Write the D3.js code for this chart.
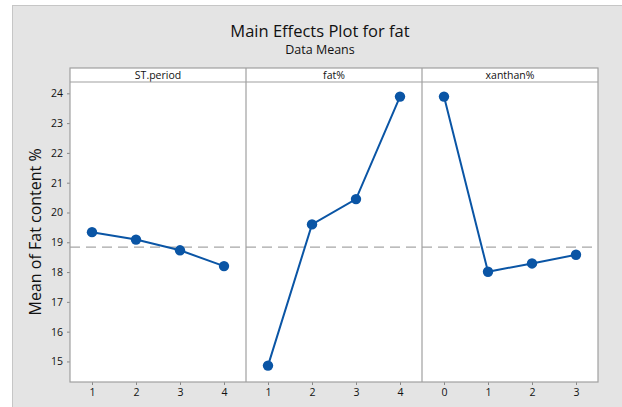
<!DOCTYPE html>
<html>
<head>
<meta charset="utf-8">
<script src="https://cdn.jsdelivr.net/npm/d3@7"></script>
<style>
  body { margin: 0; background: #fff; }
  svg { display: block; font-family: "Open Sans", "Noto Sans", sans-serif; }
</style>
</head>
<body>
<svg id="chart" width="622" height="407"></svg>
<script>
// factor panels
var factors = ["ST.period", "fat%", "xanthan%"];
var levels = [[1, 2, 3, 4], [1, 2, 3, 4], [0, 1, 2, 3]];
var means = [
  [19.34, 19.09, 18.73, 18.20],
  [14.86, 19.60, 20.45, 23.89],
  [23.89, 18.01, 18.29, 18.58]
];
var grandMean = 18.84;
var yTicks = [15, 16, 17, 18, 19, 20, 21, 22, 23, 24];

var svg = d3.select("#chart");

// grey backdrop
svg.append("rect")
  .attr("x", 12.5).attr("y", 5.5)
  .attr("width", 620).attr("height", 410)
  .attr("fill", "#e4e4e4").attr("stroke", "#c6c6c6");

svg.append("text")
  .attr("x", 320).attr("y", 37)
  .attr("text-anchor", "middle")
  .attr("font-size", 16.5).attr("fill", "#111")
  .text("Main Effects Plot for fat");
svg.append("text")
  .attr("x", 320).attr("y", 54)
  .attr("text-anchor", "middle")
  .attr("font-size", 12.5).attr("fill", "#111")
  .text("Data Means");

var plotLeft = 70, plotRight = 598, headTop = 68, plotTop = 82, plotBottom = 382;
var panelW = (plotRight - plotLeft) / factors.length;

var y = d3.scaleLinear().domain([14.31, 24.38]).range([plotBottom, plotTop]);

// white plot area
svg.append("rect")
  .attr("x", plotLeft).attr("y", headTop)
  .attr("width", plotRight - plotLeft).attr("height", plotBottom - headTop)
  .attr("fill", "#fff");

// y axis
var yAxis = svg.append("g")
  .attr("transform", "translate(" + plotLeft + ",0)")
  .call(d3.axisLeft(y).tickValues(yTicks).tickSize(3).tickPadding(4));
yAxis.select(".domain").remove();
yAxis.selectAll("line").attr("stroke", "#888");
yAxis.selectAll("text").attr("font-size", 10.5).attr("fill", "#111")
  .attr("font-family", "'Open Sans', sans-serif");

svg.append("text")
  .attr("transform", "translate(41," + y(19.35) + ") rotate(-90)")
  .attr("text-anchor", "middle")
  .attr("font-size", 16).attr("fill", "#111")
  .text("Mean of Fat content %");

// reference line at grand mean
svg.append("line")
  .attr("x1", plotLeft).attr("x2", plotRight)
  .attr("y1", y(grandMean)).attr("y2", y(grandMean))
  .attr("stroke", "#a6a6a6").attr("stroke-width", 1.2)
  .attr("stroke-dasharray", "10,6");

var line = d3.line();

factors.forEach(function(f, i) {
  var x0 = plotLeft + i * panelW;
  var lv = levels[i];
  var x = d3.scaleLinear()
    .domain([lv[0] - 0.5, lv[lv.length - 1] + 0.5])
    .range([x0, x0 + panelW]);

  var g = svg.append("g");

  var xAxis = g.append("g")
    .attr("transform", "translate(0," + plotBottom + ")")
    .call(d3.axisBottom(x).tickValues(lv).tickSize(3).tickPadding(4).tickFormat(d3.format("d")));
  xAxis.select(".domain").remove();
  xAxis.selectAll("line").attr("stroke", "#888");
  xAxis.selectAll("text").attr("font-size", 10.5).attr("fill", "#111")
    .attr("font-family", "'Open Sans', sans-serif");

  // header strip label
  g.append("text")
    .attr("x", x0 + panelW / 2).attr("y", headTop + 10.5)
    .attr("text-anchor", "middle")
    .attr("font-size", 10.5).attr("fill", "#111")
    .text(f);

  var pts = lv.map(function(d, j) { return [x(d), y(means[i][j])]; });
  g.append("path")
    .attr("d", line(pts))
    .attr("fill", "none").attr("stroke", "#0a55a5").attr("stroke-width", 2);
  g.selectAll("circle.pt").data(pts).enter().append("circle")
    .attr("class", "pt")
    .attr("cx", function(d) { return d[0]; })
    .attr("cy", function(d) { return d[1]; })
    .attr("r", 5.2)
    .attr("fill", "#0a55a5");
});

// panel frames
var frame = svg.append("g").attr("fill", "none").attr("stroke", "#a0a0a0").attr("stroke-width", 1.2);
frame.append("rect")
  .attr("x", plotLeft).attr("y", headTop)
  .attr("width", plotRight - plotLeft).attr("height", plotBottom - headTop);
frame.append("line")
  .attr("x1", plotLeft).attr("x2", plotRight).attr("y1", plotTop).attr("y2", plotTop);
d3.range(1, factors.length).forEach(function(i) {
  frame.append("line")
    .attr("x1", plotLeft + i * panelW).attr("x2", plotLeft + i * panelW)
    .attr("y1", headTop).attr("y2", plotBottom);
});
</script>
</body>
</html>
